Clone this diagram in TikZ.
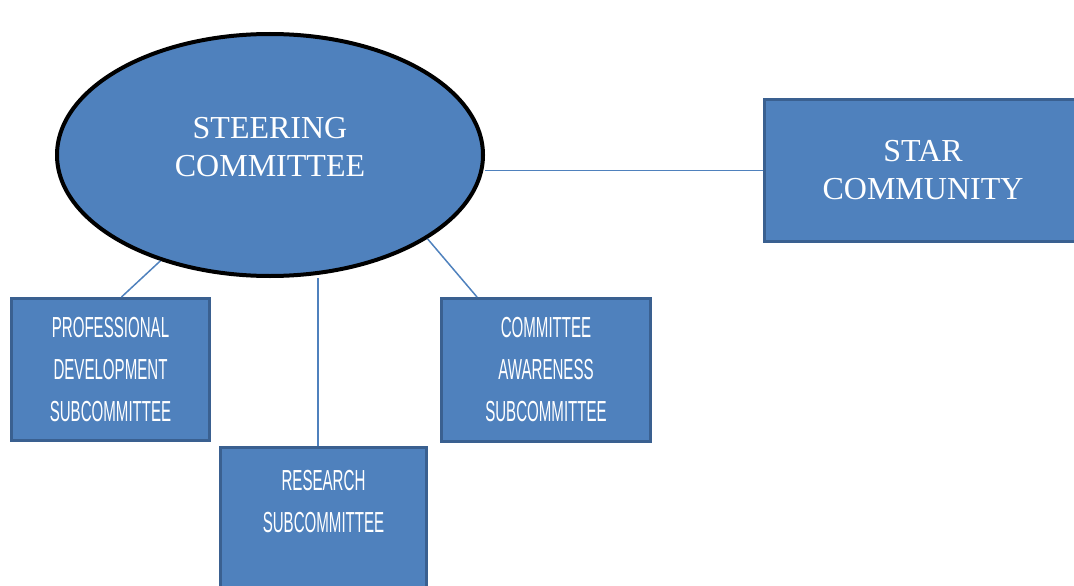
\documentclass[tikz,border=0pt]{standalone}
\usepackage{fontspec}
\setmainfont{Liberation Serif}
\newfontfamily\narrowsans[FakeStretch=0.52]{Liberation Sans}
\usetikzlibrary{positioning,shapes.geometric}
\definecolor{boxblue}{HTML}{4F81BD}
\definecolor{edgeblue}{HTML}{3A6090}

\begin{document}
\begin{tikzpicture}[x=1pt,y=-1pt,
ovalnode/.style={ellipse, draw=black, fill=boxblue, line width=4pt, minimum width=426pt, minimum height=242pt, inner sep=0pt, text=white, align=center, font=\fontsize{32}{38}\selectfont},
squarednode/.style={rectangle, draw=edgeblue, fill=boxblue, line width=3pt, minimum width=198pt, minimum height=142pt, inner sep=0pt, text=white, align=center, font=\narrowsans\fontsize{29}{42}\selectfont},
starnode/.style={squarednode, minimum width=317pt, font=\fontsize{32}{38}\selectfont},
link/.style={draw=boxblue, line width=1.5pt},
]
\useasboundingbox (0,0) rectangle (1074,586);
%Nodes
\node[ovalnode] (steer) at (270,155) {STEERING\\COMMITTEE\\[-34pt]\strut};
\node[starnode] (star) at (923,170.5) {STAR\\COMMUNITY};
\node[squarednode] (prof) at (110.5,369.5) {PROFESSIONAL\\DEVELOPMENT\\SUBCOMMITTEE};
\node[squarednode, minimum width=209pt, minimum height=143pt] (aware) at (546,370) {COMMITTEE\\AWARENESS\\SUBCOMMITTEE};
\node[squarednode, minimum width=206pt] (resch) at (323.5,518.5) {RESEARCH\\SUBCOMMITTEE\\[-20pt]\strut};

%Lines
\draw[link] (steer.224) -- ([xshift=11pt]prof.north);
\draw[link] ([xshift=-5.5pt]resch.north) -- ([xshift=-5.5pt]resch.north |- steer.south);
\draw[link] (steer.332) -- ([xshift=37pt]aware.north west);
\draw[link] (star.west) -- (star.west -| steer.east);
\end{tikzpicture}
\end{document}
